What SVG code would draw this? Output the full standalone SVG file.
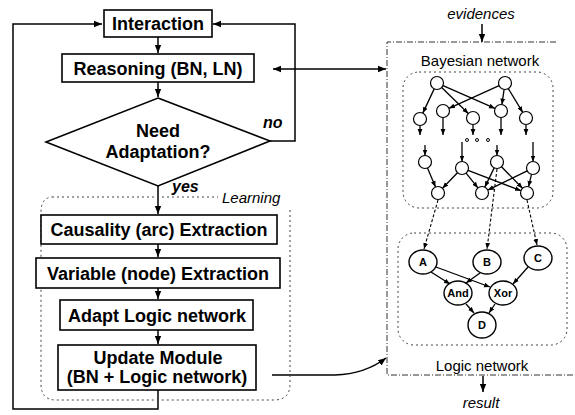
<svg xmlns="http://www.w3.org/2000/svg" width="575" height="415" viewBox="0 0 575 415">
  <style>
    .box { fill: #fff; stroke: #000; stroke-width: 1.6; }
    .lbl { font-family: "Liberation Sans", Arial, sans-serif; font-weight: bold; font-size: 18px; text-anchor: middle; fill: #000; }
    .tag { font-family: "Liberation Sans", Arial, sans-serif; font-weight: bold; font-style: italic; font-size: 16px; fill: #000; }
    .note { font-family: "Liberation Sans", Arial, sans-serif; font-style: italic; font-size: 15px; fill: #000; }
    .title { font-family: "Liberation Sans", Arial, sans-serif; font-size: 15px; text-anchor: middle; fill: #000; }
    .ln { fill: none; stroke: #000; stroke-width: 1.5; }
    .edge { fill: none; stroke: #000; stroke-width: 1.3; }
    .dash { fill: none; stroke: #000; stroke-width: 1.1; stroke-dasharray: 3 2; }
    .frame { fill: none; stroke: #333; stroke-width: 1; stroke-dasharray: 6 2 1 2; }
    .dot { fill: none; stroke: #444; stroke-width: 1; stroke-dasharray: 2 3; }
    .bn { fill: #fff; stroke: #000; stroke-width: 1.2; }
    .gate { fill: #fff; stroke: #000; stroke-width: 1.4; }
    .glbl { font-family: "Liberation Sans", Arial, sans-serif; font-weight: bold; font-size: 11px; text-anchor: middle; fill: #000; }
  </style>
  <defs>
    <marker id="ah" viewBox="0 0 10 10" refX="10" refY="5" markerWidth="8" markerHeight="8" markerUnits="userSpaceOnUse" orient="auto-start-reverse">
      <path d="M0,1 L10,5 L0,9 z" fill="#000"/>
    </marker>
    <marker id="as" viewBox="0 0 10 10" refX="10" refY="5" markerWidth="6" markerHeight="6" markerUnits="userSpaceOnUse" orient="auto">
      <path d="M0,1 L10,5 L0,9 z" fill="#000"/>
    </marker>
  </defs>

  <!-- flowchart connectors -->
  <g id="connectors">
    <path class="ln" d="M158,37 V53" marker-end="url(#ah)"/>
    <path class="ln" d="M158,82 V97" marker-end="url(#ah)"/>
    <path class="ln" d="M158,186 V214" marker-end="url(#ah)"/>
    <path class="ln" d="M158,244 V257" marker-end="url(#ah)"/>
    <path class="ln" d="M158,288 V299" marker-end="url(#ah)"/>
    <path class="ln" d="M158,330 V344" marker-end="url(#ah)"/>
    <!-- "no" branch back to Interaction -->
    <path class="ln" d="M270,141 H295 V24 H213" marker-end="url(#ah)"/>
    <!-- loop after update -->
    <path class="ln" d="M158,390 V409 H13 V24 H102" marker-end="url(#ah)"/>
    <!-- reasoning <-> bayesian network -->
    <path class="ln" d="M273,69 H386" marker-start="url(#ah)" marker-end="url(#ah)"/>
    <!-- update module -> networks -->
    <path class="ln" d="M272,375 H335 Q365,374 386,358" marker-end="url(#ah)"/>
    <!-- evidences / result -->
    <path class="ln" d="M482,24 V42" marker-end="url(#ah)"/>
    <path class="ln" d="M483,376 V392" marker-end="url(#ah)"/>
  </g>

  <!-- learning group frame -->
  <g id="learning">
    <path class="dot" d="M52,197 H218 M290,210 V384 Q290,400 274,400 H56 Q41,400 41,384 V212 Q41,198 52,197"/>
    <text class="note" x="222" y="203">Learning</text>
  </g>

  <g id="interaction">
    <rect class="box" x="104" y="10" width="108" height="27"/>
    <text class="lbl" x="158" y="30">Interaction</text>
  </g>
  <g id="reasoning">
    <rect class="box" x="62" y="54" width="192" height="28"/>
    <text class="lbl" x="158" y="74.5">Reasoning (BN, LN)</text>
  </g>
  <g id="decision">
    <polygon class="box" points="158,98 270,141 158,186 46,142"/>
    <text class="lbl" x="158" y="137">Need</text>
    <text class="lbl" x="158" y="158">Adaptation?</text>
    <text class="tag" x="263" y="128">no</text>
    <text class="tag" x="172" y="192">yes</text>
  </g>
  <g id="causality">
    <rect class="box" x="41" y="215" width="236" height="29"/>
    <text class="lbl" x="159" y="236">Causality (arc) Extraction</text>
  </g>
  <g id="variable">
    <rect class="box" x="36" y="258" width="244" height="30"/>
    <text class="lbl" x="158" y="280">Variable (node) Extraction</text>
  </g>
  <g id="adapt">
    <rect class="box" x="60" y="300" width="193" height="30"/>
    <text class="lbl" x="157" y="322">Adapt Logic network</text>
  </g>
  <g id="update">
    <rect class="box" x="58" y="345" width="198" height="45"/>
    <text class="lbl" x="158" y="364">Update Module</text>
    <text class="lbl" x="157" y="383">(BN + Logic network)</text>
  </g>

  <!-- network panel -->
  <g id="panel">
    <text class="note" x="481" y="19" text-anchor="middle">evidences</text>
    <path class="frame" d="M556,42 H387 V375 H575"/>
    <text class="title" x="480" y="66">Bayesian network</text>
    <text class="title" x="482" y="371">Logic network</text>
    <text class="note" x="481" y="408" text-anchor="middle">result</text>
  </g>

  <!-- bayesian network -->
  <g id="bayesian-network">
    <rect class="dot" x="403" y="72" width="150" height="136" rx="16"/>
    <g class="edge" marker-end="url(#as)">
      <line x1="434.2" y1="88.9" x2="422.8" y2="113.1"/>
      <line x1="441.7" y1="87.5" x2="468.3" y2="113.5"/>
      <line x1="443" y1="85.6" x2="495" y2="108.4"/>
      <line x1="499.1" y1="85.7" x2="448.9" y2="108.3"/>
      <line x1="504.1" y1="89.4" x2="501.9" y2="104.6"/>
      <line x1="508.3" y1="88.6" x2="522.7" y2="112.4"/>
      <line x1="420" y1="125.5" x2="420" y2="135"/>
      <line x1="443" y1="117.5" x2="443" y2="135"/>
      <line x1="473" y1="124.5" x2="473" y2="135"/>
      <line x1="501" y1="117.5" x2="501" y2="135"/>
      <line x1="526" y1="124.5" x2="526" y2="135"/>
      <line x1="425" y1="145" x2="425" y2="155.5"/>
      <line x1="462" y1="142" x2="462" y2="161.5"/>
      <line x1="497" y1="145" x2="497" y2="155.5"/>
      <line x1="533" y1="142" x2="533" y2="161.5"/>
      <line x1="427.5" y1="168" x2="435.5" y2="187"/>
      <line x1="457.5" y1="172.7" x2="442.5" y2="188.3"/>
      <line x1="466.1" y1="173.1" x2="477.9" y2="187.9"/>
      <line x1="468.1" y1="170.3" x2="520.9" y2="190.7"/>
      <line x1="494.2" y1="167.9" x2="484.8" y2="187.1"/>
      <line x1="501.5" y1="166.7" x2="522.5" y2="188.3"/>
      <line x1="527.2" y1="170.9" x2="487.8" y2="190.1"/>
      <line x1="531.5" y1="174.3" x2="528.5" y2="186.7"/>
    </g>
    <g class="bn">
      <circle cx="437" cy="83" r="6.5"/>
      <circle cx="505" cy="83" r="6.5"/>
      <circle cx="420" cy="119" r="6.5"/>
      <circle cx="443" cy="111" r="6.5"/>
      <circle cx="473" cy="118" r="6.5"/>
      <circle cx="501" cy="111" r="6.5"/>
      <circle cx="526" cy="118" r="6.5"/>
      <circle cx="425" cy="162" r="6.5"/>
      <circle cx="462" cy="168" r="6.5"/>
      <circle cx="497" cy="162" r="6.5"/>
      <circle cx="533" cy="168" r="6.5"/>
      <circle cx="438" cy="193" r="6.5"/>
      <circle cx="482" cy="193" r="6.5"/>
      <circle cx="527" cy="193" r="6.5"/>
    </g>
    <g fill="none" stroke="#000" stroke-width="1">
      <circle cx="467" cy="140" r="1.5"/>
      <circle cx="477" cy="140" r="1.5"/>
      <circle cx="488" cy="140" r="1.5"/>
    </g>
  </g>

  <!-- mapping from bayesian network to logic network -->
  <g id="mapping" class="dash" marker-end="url(#as)">
    <line x1="438" y1="200" x2="424" y2="249"/>
    <line x1="497" y1="169" x2="487" y2="249"/>
    <line x1="527" y1="200" x2="537" y2="245"/>
  </g>

  <!-- logic network -->
  <g id="logic-network">
    <rect class="dot" x="398" y="233" width="169" height="112" rx="16"/>
    <g class="edge" marker-end="url(#as)">
      <line x1="431" y1="272" x2="450" y2="284"/>
      <line x1="436" y1="267" x2="490" y2="287"/>
      <line x1="480" y1="273" x2="466" y2="283"/>
      <line x1="528" y1="267" x2="513" y2="284"/>
      <line x1="466" y1="304" x2="474" y2="313"/>
      <line x1="495" y1="304" x2="489" y2="313"/>
    </g>
    <g id="node-a"><ellipse class="gate" cx="423" cy="262" rx="14" ry="12"/><text class="glbl" x="423" y="266">A</text></g>
    <g id="node-b"><ellipse class="gate" cx="487" cy="262" rx="14" ry="12"/><text class="glbl" x="487" y="266">B</text></g>
    <g id="node-c"><ellipse class="gate" cx="538" cy="258" rx="14" ry="12"/><text class="glbl" x="538" y="262">C</text></g>
    <g id="node-and"><ellipse class="gate" cx="458" cy="293" rx="14" ry="12"/><text class="glbl" x="458" y="297">And</text></g>
    <g id="node-xor"><ellipse class="gate" cx="503" cy="293" rx="14" ry="12"/><text class="glbl" x="503" y="297">Xor</text></g>
    <g id="node-d"><ellipse class="gate" cx="482" cy="325" rx="14" ry="13"/><text class="glbl" x="482" y="329">D</text></g>
  </g>
</svg>
